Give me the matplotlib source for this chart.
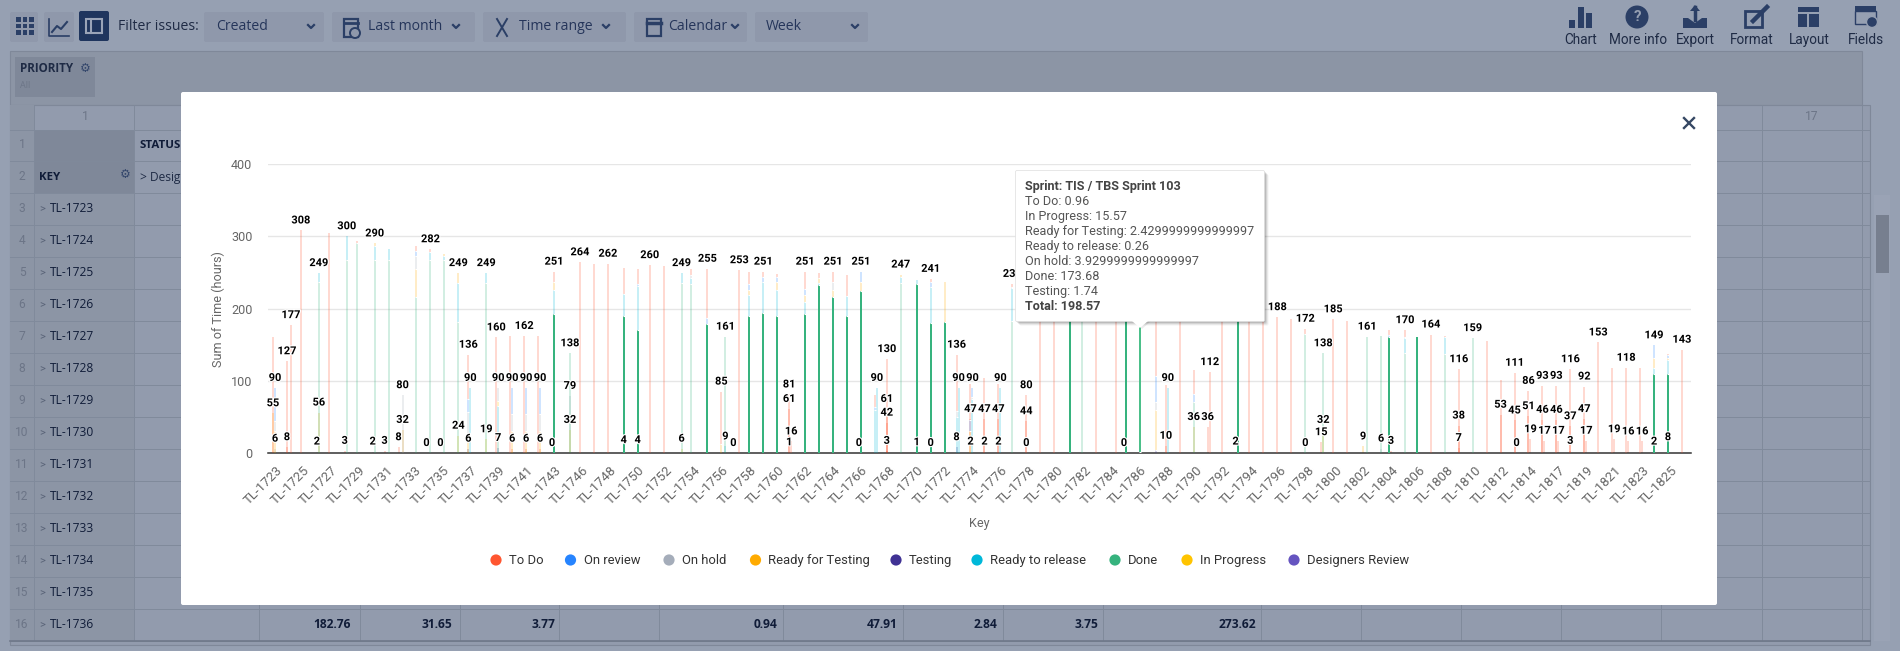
import matplotlib
matplotlib.use("Agg")
import matplotlib.pyplot as plt
import matplotlib.patheffects as pe
from matplotlib.patches import Rectangle, FancyBboxPatch, Circle, Polygon

plt.rcParams['font.family'] = ['Roboto', 'DejaVu Sans']

# keys on the x axis, one per category (only every other one gets a label)
key_numbers = list(range(1723, 1744)) + [1744] + list(range(1746, 1815)) + [1815] + list(range(1817, 1827))
key_names = [f"TL-{n}" for n in key_numbers]

# each series: (key index, sprint slot inside the category, hours)
to_do = [(0,-1,161),(1,-1,127),(1,1,177),(2,-1,308),(4,-1,305),(6,-1,2),(10,1,7),(11,1,4),(14,-1,61),(16,-1,160),
         (17,-1,162),(18,-1,162),(19,-1,162),(20,0,15),(22,-1,264),(23,-1,262),(24,-1,262),(25,0,36),(26,0,20),
         (27,-1,260),(28,-1,259),(30,-1,8),(31,0,68),(32,0,72),(33,2,253),(34,0,16),(35,0,7),(36,0,4),(37,-1,81),
         (37,0,16),(38,0,24),(39,0,7),(40,0,14),(41,0,29),(43,0,16),(44,-1,130),(47,0,5),(49,-1,78),(50,-1,49),
         (51,-1,104),(52,-1,95),(53,-1,4),(54,-1,80),(55,-1,225),(56,-1,220),(59,-1,210),(60,2,205),(62,0,0.96),
         (63,1,90),(64,-1,94),(65,-1,195),(66,-1,33),(67,0,112),(68,-1,190),(70,-1,195),(71,-1,186),(72,-1,188),
         (73,-1,186),(74,-1,7),(76,-1,185),(77,-1,183),(80,-1,7),(81,0,9),(83,-1,164),(84,-1,2),(85,-1,116),
         (87,-1,155),(88,-1,101),(89,-1,111),(90,-1,86),(91,-1,93),(92,-1,93),(93,-1,116),(94,-1,92),(95,-1,153),
         (96,-1,118),(97,-1,118),(98,-1,118),(100,-1,2),(101,-1,143)]
on_review = [(0,0,46),(10,1,7),(14,-1,18),(17,0,36),(18,0,36),(19,0,36),(26,0,3),(31,0,9),(34,0,8),(35,0,7),(36,0,7),
             (38,0,9),(42,0,14),(43,0,4),(47,0,6),(50,-1,16),(50,0,12),(63,1,35),(66,-1,11),(80,-1,3),(99,-1,17),(100,-1,3)]
on_hold = [(0,0,14),(9,1,80),(10,1,18),(14,-1,40),(16,0,18),(17,0,24),(18,0,24),(19,0,24),(30,-1,4),(40,0,12),
           (49,-1,8),(50,0,3),(53,-1,2),(62,0,3.93),(63,1,12),(81,0,2)]
ready_testing = [(0,0,30),(7,1,3),(10,1,38),(12,1,3),(13,1,14),(14,-1,17),(17,0,30),(18,0,30),(19,0,30),(20,0,11),
                 (32,0,13),(34,0,8),(36,0,12),(38,0,9),(39,0,7),(40,0,9),(42,0,13),(45,-1,3),(48,0,55),(50,-1,30),
                 (62,0,2.43),(63,1,55),(99,-1,14),(100,-1,3)]
testing = [(62,0,1.74),(63,1,4)]
ready_release = [(3,1,12),(5,1,33),(7,1,20),(8,1,16),(11,1,11),(12,1,5),(13,1,53),(14,0,90),(15,1,14),(16,0,43),
                 (20,0,33),(25,0,31),(26,0,61),(29,1,14),(30,-1,8),(34,0,29),(35,0,43),(36,0,36),(38,0,16),(39,0,3),
                 (41,0,27),(43,0,60),(43,1,90),(45,-1,9),(46,0,6),(47,0,50),(49,-1,50),(49,0,90),(50,0,75),(52,0,90),
                 (53,-1,45),(62,0,0.26),(64,0,90),(81,0,20),(84,-1,23),(99,-1,9),(100,-1,20)]
done = [(3,1,237),(5,1,267),(6,-1,291),(7,1,267),(8,1,267),(10,1,216),(11,1,267),(12,1,267),(13,1,182),(15,1,235),
        (16,0,22),(20,0,192),(21,1,138),(25,0,189),(26,0,170),(29,1,235),(30,-1,234),(31,0,178),(32,2,161),(34,0,189),
        (35,0,194),(36,0,189),(38,0,193),(39,0,232),(40,0,216),(41,0,190),(42,0,224),(45,-1,235),(46,0,234),(47,0,180),
        (48,0,181),(53,-1,183),(57,0,215),(58,-1,212),(61,0,200),(62,0,173.68),(66,-1,71),(69,0,188),(74,-1,165),
        (75,1,138),(78,2,161),(79,2,162),(80,-1,160),(81,0,139),(82,-1,160),(84,-1,137),(86,-1,159),(99,-1,109),(100,-1,109)]
in_progress = [(16,0,7),(62,0,15.57)]
designers = []

# totals whose label highcharts dropped because it overlapped
hidden_totals = [(0,-1),(4,-1),(6,-1),(8,1),(10,1),(12,1),(17,-1),(19,-1),(23,-1),(25,0),(26,0),(28,-1),(30,-1),(34,0),
                 (36,0),(39,0),(41,0),(43,0),(46,0),(48,0),(50,-1),(51,-1),(52,-1),(55,-1),(56,-1),(57,0),(58,-1),(59,-1),
                 (60,2),(61,0),(62,0),(63,1),(64,-1),(65,-1),(66,-1),(68,-1),(69,0),(70,-1),(71,-1),(73,-1),(77,-1),(79,2),
                 (80,-1),(82,-1),(84,-1),(87,-1),(88,-1),(96,-1),(98,-1),(100,-1)]
# keys whose Done part belongs to the hovered series (not faded)
solid_done_keys = [20,25,26,31,34,35,36,38,39,40,41,42,46,47,48,57,61,62,69,80,82,99,100]

# smaller stacks sitting behind the tall ones, one segment each, label always on
inner_keys   = [0,0,1,3,3,5,7,8,9,9,11,12,13,14,15,16,17,18,19,20,21,21,25,26,29,32,33,37,37,42,44,44,44,46,47,49,50,50,51,51,52,52,
                54,54,61,64,66,67,69,74,75,75,78,79,80,85,85,88,89,89,90,90,91,91,92,92,93,93,94,94,96,97,98,99,100]
inner_slots  = [-1,0,-1,0,1,0,0,-1,-1,1,-1,-1,1,-1,1,0,0,0,0,-1,1,1,0,0,1,2,-1,-1,-1,-1,-1,-1,-1,0,0,-1,-1,-1,-1,-1,-1,-1,
                -1,-1,-1,-1,-1,-1,-1,-1,0,1,0,2,0,-1,-1,-1,-1,0,-1,0,-1,0,-1,0,-1,-1,-1,0,0,0,0,-1,-1]
inner_series = ["R","H","T","H","R","T","H","T","T","R","H","H","P","E","P","E","T","T","T","T","H","P","P","P","P","L","T","T","T","T","T","T","T","T","T","E","T","R","T","T","T","T",
                "T","T","T","T","R","T","T","R","T","P","R","H","T","T","T","T","T","T","T","T","T","T","T","T","T","T","T","T","T","T","T","T","P"]
inner_hours  = [55,6,8,2,56,3,2,3,8,32,0,0,24,6,19,7,6,6,6,0,79,32,4,4,6,9,0,61,1,0,61,42,3,1,0,8,47,2,47,2,47,2,
                44,0,0,10,36,36,2,0,15,32,9,6,3,38,7,53,45,0,51,19,46,17,46,17,37,3,47,17,19,16,16,2,8]

legend_names = ["To Do", "On review", "On hold", "Ready for Testing", "Testing", "Ready to release", "Done", "In Progress", "Designers Review"]
legend_colors = ["#FF5630", "#2684FF", "#A5ADBA", "#FFAB00", "#403294", "#00B8D9", "#36B37E", "#FFC400", "#6554C0"]
legend_dot_x = [496, 570.5, 669, 755.5, 896, 977, 1115, 1187, 1294]

tooltip_lines = ["Sprint: TIS / TBS Sprint 103", "To Do: 0.96", "In Progress: 15.57", "Ready for Testing: 2.4299999999999997",
                 "Ready to release: 0.26", "On hold: 3.9299999999999997", "Done: 173.68", "Testing: 1.74", "Total: 198.57"]

# stacked top to bottom in this order
stack_order = [("T", to_do, "#FF5630"), ("V", on_review, "#2684FF"), ("H", on_hold, "#A5ADBA"),
               ("R", ready_testing, "#FFAB00"), ("P", in_progress, "#FFC400"), ("L", ready_release, "#00B8D9"),
               ("D", done, "#36B37E"), ("E", testing, "#403294"), ("G", designers, "#6554C0")]
series_color = {c: col for c, _, col in stack_order}

W, H = 1900, 651
SLOT = 0.1434
FADE = 0.22

fig = plt.figure(figsize=(W / 100, H / 100), dpi=100, facecolor="#96a0b2")

def px_axes(z):
    a = fig.add_axes([0, 0, 1, 1], zorder=z)
    a.set_xlim(0, W)
    a.set_ylim(H, 0)
    a.axis("off")
    a.patch.set_alpha(0)
    return a

def fs(px):
    return px * 0.72

# ---- dimmed app behind the modal ----
bg = px_axes(0)
bg.add_patch(Rectangle((10, 51), 1852, 54, fc="#8c95a5", ec="#7f8899", lw=0.8))
bg.add_patch(Rectangle((15, 57), 80, 40, fc="#7f8899", ec="none"))
bg.text(20, 69, "PRIORITY", fontsize=fs(11.6), fontweight="bold", color="#1f2b45", family="Open Sans", va="center")
bg.text(85, 69, "⚙", fontsize=fs(12), color="#33466b", family="DejaVu Sans", ha="center", va="center")
bg.text(20, 86, "All", fontsize=fs(9), color="#6c7587", family="Open Sans", va="center")

# toolbar
for x0, x1 in [(10, 38), (44, 74), (204, 324), (332, 475), (483, 626), (634, 747), (755, 868)]:
    bg.add_patch(FancyBboxPatch((x0 + 2, 14), x1 - x0 - 4, 26, boxstyle="round,pad=2", fc="#8f98ab", ec="none"))
bg.add_patch(FancyBboxPatch((81, 13), 26, 26, boxstyle="round,pad=2", fc="#1f355e", ec="none"))
bg.add_patch(Rectangle((86, 19), 16, 14, fc="none", ec="#9aa4b8", lw=1.5))
bg.plot([91, 91], [19, 33], color="#9aa4b8", lw=1.5)
for i in range(3):
    for j in range(3):
        bg.add_patch(Rectangle((16 + 6.5 * i, 17 + 6.5 * j), 4.5, 4.5, fc="#2b3f66", ec="none"))
bg.plot([49, 49, 69], [19, 36, 36], color="#2b3f66", lw=1.2)
bg.plot([52, 57, 61, 67], [32, 26, 29, 22], color="#2b3f66", lw=1.5)
ui = "#2b3f66"
bg.text(118, 27, "Filter issues:", fontsize=fs(14), color="#1f2b45", va="center", family="Open Sans")
for x, s, cx in [(216, "Created", 311), (368, "Last month", 456), (519, "Time range", 606), (668, "Calendar", 735), (766, "Week", 855)]:
    bg.text(x, 26, s, fontsize=fs(14), color="#25355a", va="center", family="Open Sans")
    bg.plot([cx - 3, cx, cx + 3], [25, 28, 25], color=ui, lw=1.6)
# small calendar / scissors style icons in the filter boxes
bg.add_patch(Rectangle((344, 19), 14, 18, fc="none", ec=ui, lw=1.6))
bg.plot([344, 358], [23, 23], color=ui, lw=2)
bg.add_patch(Circle((355, 33), 5, fc="#8f98ab", ec=ui, lw=1.4))
bg.plot([497, 507], [19, 36], color=ui, lw=1.4)
bg.plot([507, 497], [19, 36], color=ui, lw=1.4)
bg.add_patch(Rectangle((647, 19), 14, 17, fc="none", ec=ui, lw=1.6))
bg.plot([647, 661], [23, 23], color=ui, lw=2.5)

# top right buttons
for cx, s in [(1581, "Chart"), (1638, "More info"), (1695, "Export"), (1752, "Format"), (1809, "Layout"), (1866, "Fields")]:
    bg.text(cx, 40, s, fontsize=fs(13.6), color="#1f2b45", ha="center", va="center")
for x0, y0 in [(1569, 20), (1578, 7), (1586, 13)]:
    bg.add_patch(Rectangle((x0, y0), 5.5, 28 - y0, fc=ui, ec="none"))
bg.add_patch(Circle((1637, 17), 11.5, fc=ui, ec="none"))
bg.text(1637, 17, "?", fontsize=fs(15), fontweight="bold", color="#96a0b2", ha="center", va="center")
bg.add_patch(Polygon([(1683, 18), (1688, 18), (1695, 23), (1702, 18), (1707, 18), (1707, 28), (1683, 28)], fc=ui, ec="none"))
bg.plot([1695, 1695], [7, 20], color=ui, lw=2.5)
bg.add_patch(Polygon([(1690, 11), (1695, 5), (1700, 11)], fc=ui, ec="none"))
bg.add_patch(Rectangle((1745, 11), 17, 16, fc="none", ec=ui, lw=2))
bg.plot([1753, 1767], [21, 7], color=ui, lw=3.2)
bg.add_patch(Rectangle((1798, 7), 21, 5, fc=ui, ec="none"))
bg.add_patch(Rectangle((1798, 14), 9, 13, fc=ui, ec="none"))
bg.add_patch(Rectangle((1809, 14), 10, 13, fc=ui, ec="none"))
bg.add_patch(Rectangle((1855, 6), 21, 5, fc=ui, ec="none"))
bg.add_patch(Rectangle((1855, 11), 21, 13, fc="none", ec=ui, lw=1))
bg.add_patch(Circle((1872, 22), 5.5, fc=ui, ec="#96a0b2", lw=1))

# pivot table
bg.add_patch(Rectangle((10, 105), 1860, 540, fc="#929bad", ec="#7f8899", lw=0.8))
bg.add_patch(Rectangle((10, 105), 24, 536, fc="#8c95a5", ec="none"))
bg.add_patch(Rectangle((34, 130), 100, 63, fc="#7f8899", ec="none"))
bg.add_patch(Rectangle((34, 193), 100, 448, fc="#8c95a5", ec="none"))
col_lines = [34, 134, 259, 360, 460, 559, 659, 783, 903, 1003, 1103, 1261, 1361, 1461, 1561, 1661, 1762, 1862]
for x in col_lines:
    bg.plot([x, x], [105, 641], color="#808a9b", lw=0.7, zorder=1.5)
bg.plot([10, 1870], [130, 130], color="#808a9b", lw=0.7, zorder=1.5)
bg.plot([10, 1870], [161, 161], color="#808a9b", lw=0.7, zorder=1.5)
for n in range(3, 18):
    y = 193 + 32 * (n - 3)
    bg.plot([10, 1870], [y, y], color="#808a9b", lw=0.7, zorder=1.5)
bg.plot([10, 1870], [641, 641], color="#6f788a", lw=1.2, zorder=1.5)
bg.text(85, 117, "1", fontsize=fs(12), color="#6c7587", ha="center", va="center")
bg.text(1812, 117, "17", fontsize=fs(12), color="#6c7587", ha="center", va="center")
for n in range(1, 17):
    y = 145 if n == 1 else 177 if n == 2 else 209 + 32 * (n - 3)
    bg.text(22, y, str(n), fontsize=fs(12), color="#6c7587", ha="center", va="center")
    if n >= 3:
        bg.text(39, y, ">", fontsize=fs(11), color="#5a6478", va="center")
        bg.text(50, y, f"TL-{1720 + n}", fontsize=fs(12), color="#101c38", va="center", family="Open Sans")
bg.text(39, 177, "KEY", fontsize=fs(11.5), fontweight="bold", color="#101c38", va="center", family="Open Sans")
bg.text(125, 174, "⚙", fontsize=fs(12), color="#33466b", family="DejaVu Sans", ha="center", va="center")
bg.text(139, 146, "STATUS", fontsize=fs(11.5), fontweight="bold", color="#101c38", va="center", family="Open Sans")
bg.text(140, 177, "> Design", fontsize=fs(12), color="#1f2b45", va="center", family="Open Sans")
for x, s in [(351, "182.76"), (452, "31.65"), (555, "3.77"), (778, "0.94"), (898, "47.91"), (997, "2.84"), (1098, "3.75"), (1256, "273.62")]:
    bg.text(x, 625, s, fontsize=fs(12), fontweight="bold", color="#101c38", ha="right", va="center", family="Open Sans")
# scrollbar
bg.add_patch(Rectangle((1874, 195), 16, 446, fc="#9aa3b5", ec="none"))
bg.add_patch(Rectangle((1876, 215), 13, 58, fc="#777f8f", ec="none"))

# modal sits above everything drawn so far
bg.add_patch(FancyBboxPatch((183, 94), 1532, 509, boxstyle="round,pad=2", fc="white", ec="none", zorder=5))
bg.plot([1684, 1694], [118, 128], color="#354763", lw=1.7, zorder=6)
bg.plot([1684, 1694], [128, 118], color="#354763", lw=1.7, zorder=6)

# ---- chart ----
ax = fig.add_axes([268.36 / W, 1 - 453 / H, (1691.25 - 268.36) / W, 289 / H], zorder=1)
ax.patch.set_alpha(0)
ax.set_xlim(-0.5, 101.5)
ax.set_ylim(0, 400)
for s in ["top", "right", "left"]:
    ax.spines[s].set_visible(False)
ax.spines["bottom"].set_color("#333333")
ax.spines["bottom"].set_linewidth(1.1)
ax.set_axisbelow(True)
ax.yaxis.grid(True, color="#e6e6e6", lw=1)
ax.set_yticks([0, 100, 200, 300, 400])
ax.tick_params(axis="y", length=0, labelsize=fs(12.6), labelcolor="#666666", pad=11.5)
ax.tick_params(axis="x", length=0, labelsize=fs(13.3), labelcolor="#666666", pad=8)
ax.set_xticks(range(0, len(key_names), 2))
ax.set_xticklabels(key_names[::2], rotation=45, ha="right", rotation_mode="anchor")


def slot_x(k, s):
    return k + s * SLOT - 0.024


# gather the stacks from the series lists
stacks = {}
for code, series, color in stack_order:
    for k, s, v in series:
        stacks.setdefault((k, s), []).append((code, v))

# inner stacks first so they sit behind
for k, s, code, v in zip(inner_keys, inner_slots, inner_series, inner_hours):
    ax.bar(slot_x(k, s), v, width=SLOT, color=series_color[code], alpha=FADE, lw=0, zorder=2)

for (k, s), segs in stacks.items():
    top = sum(v for _, v in segs)
    y = top
    for i, (code, v) in enumerate(segs):
        y -= v
        alpha = FADE
        color = series_color[code]
        if code == "D" and k in solid_done_keys:
            alpha = 1
            if k == 62:
                color = "#4cc08a"
        ax.bar(slot_x(k, s), v, width=SLOT, bottom=y, color=color, alpha=alpha, lw=0, zorder=3)
        if i < len(segs) - 1:
            ax.plot([slot_x(k, s) - SLOT / 2, slot_x(k, s) + SLOT / 2], [y, y], color="white", lw=0.8, zorder=4, solid_capstyle="butt")

outline = [pe.withStroke(linewidth=1.6, foreground="white")]


def total_label(k, s, top):
    ax.annotate(f"{round(top)}", (slot_x(k, s), top), xytext=(0, 7.2), textcoords="offset points", ha="center", va="center",
                fontsize=fs(11), fontweight="bold", color="black", path_effects=outline, zorder=6, annotation_clip=False)


for (k, s), segs in stacks.items():
    if (k, s) not in hidden_totals:
        total_label(k, s, sum(v for _, v in segs))
for k, s, v in zip(inner_keys, inner_slots, inner_hours):
    total_label(k, s, v)

# ---- overlay texts ----
fg = px_axes(2)
fg.text(218, 309, "Sum of Time (hours)", fontsize=fs(12.6), color="#666666", rotation=90, ha="center", va="center")
fg.text(979, 524, "Key", fontsize=fs(12.6), color="#666666", ha="center", va="center")
for name, col, x in zip(legend_names, legend_colors, legend_dot_x):
    fg.add_patch(Circle((x, 560), 5.6, fc=col, ec="none"))
    fg.text(x + 13, 560.5, name, fontsize=fs(13), color="#333333", va="center")

# tooltip with a soft shadow
for off, a in [(4, 0.05), (3, 0.08), (2, 0.1), (1, 0.12)]:
    fg.add_patch(FancyBboxPatch((1017 + off, 172 + off), 246, 148, boxstyle="round,pad=1.5", fc="black", ec="none", alpha=a))
fg.add_patch(Polygon([(1131 + 2, 321), (1149 + 2, 321), (1140 + 2, 329)], fc="black", ec="none", alpha=0.08))
fg.add_patch(FancyBboxPatch((1017, 172), 246, 148, boxstyle="round,pad=1.5", fc="white", ec="#dddddd", lw=0.5))
fg.add_patch(Polygon([(1132, 321), (1148, 321), (1140, 328)], fc="white", ec="none"))
tip_y = [186.7, 201.3, 216.3, 231.3, 246.7, 261.3, 276.3, 291.3, 306.7]
for i, (line, y) in enumerate(zip(tooltip_lines, tip_y)):
    bold = i == 0 or i == len(tooltip_lines) - 1
    fg.text(1025, y, line, fontsize=fs(12.6), color="#444444" if bold else "#555555", fontweight="bold" if bold else "normal", va="center")

fig.savefig("out.png", dpi=100, facecolor=fig.get_facecolor())
